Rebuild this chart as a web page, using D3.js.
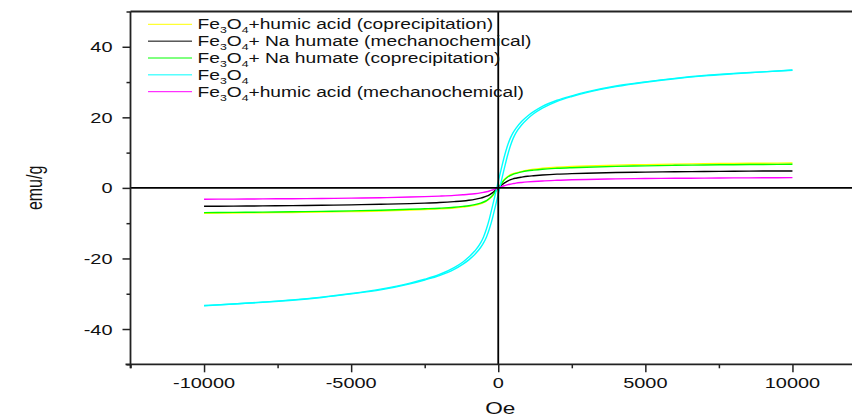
<!DOCTYPE html>
<html><head><meta charset="utf-8">
<script src="https://cdn.jsdelivr.net/npm/d3@7"></script>
<style>html,body{margin:0;padding:0;background:#fff;}svg{display:block;}</style>
</head><body>
<svg id="chart" width="852" height="418"></svg>
<script>
// ---- data ----
const fieldOe = [-10000,-9000,-8000,-7000,-6000,-5000,-4000,-3000,-2500,-2000,-1500,-1200,-1000,-800,-600,-500,-400,-300,-200,-100,0,
                 100,200,300,400,500,600,800,1000,1200,1500,2000,2500,3000,4000,5000,6000,7000,8000,9000,10000];
// Fe3O4: descending-field branch and ascending-field branch of the loop
const fe3o4Down = [-33.35,-32.9,-32.35,-31.75,-30.95,-29.95,-28.7,-27.0,-25.9,-24.55,-22.6,-21.0,-19.6,-17.9,-15.6,-13.9,-11.6,-8.7,-5.3,-1.8,1.8,
                   5.3,8.7,11.6,13.9,15.6,16.9,18.9,20.4,21.6,23.1,24.85,26.1,27.2,28.9,30.05,31.05,31.85,32.45,32.9,33.4];
const fe3o4Up   = [-33.4,-32.9,-32.45,-31.85,-31.05,-30.05,-28.9,-27.2,-26.1,-24.85,-23.1,-21.6,-20.4,-18.9,-16.9,-15.6,-13.9,-11.6,-8.7,-5.3,-1.8,
                   1.8,5.3,8.7,11.6,13.9,15.6,17.9,19.6,21.0,22.6,24.55,25.9,27.0,28.7,29.95,30.95,31.75,32.35,32.9,33.35];
const humicCoprec = [-7.2,-7.12,-7.05,-6.97,-6.85,-6.72,-6.55,-6.3,-6.15,-5.95,-5.7,-5.45,-5.25,-4.95,-4.5,-4.2,-3.75,-3.1,-2.3,-1.2,0,
                     1.2,2.3,3.1,3.7,4.0,4.25,4.7,5.05,5.3,5.55,5.85,6.05,6.2,6.45,6.6,6.75,6.85,6.93,7.0,7.07];
const naHumMech   = [-5.2,-5.16,-5.1,-5.02,-4.92,-4.8,-4.65,-4.45,-4.32,-4.15,-3.9,-3.7,-3.5,-3.25,-2.9,-2.65,-2.35,-1.95,-1.4,-0.7,0,
                     0.7,1.35,1.85,2.25,2.55,2.75,3.05,3.3,3.45,3.65,3.9,4.05,4.15,4.35,4.48,4.58,4.66,4.72,4.77,4.8];
const naHumCoprec = [-7.0,-6.95,-6.87,-6.77,-6.65,-6.5,-6.32,-6.07,-5.92,-5.75,-5.5,-5.25,-5.05,-4.75,-4.3,-4.0,-3.6,-3.0,-2.2,-1.1,0,
                     1.1,2.2,2.95,3.5,3.85,4.1,4.55,4.85,5.05,5.3,5.55,5.72,5.86,6.1,6.25,6.4,6.5,6.58,6.65,6.7];
const humicMech   = [-3.2,-3.17,-3.12,-3.06,-2.99,-2.9,-2.78,-2.6,-2.48,-2.32,-2.12,-1.95,-1.82,-1.65,-1.42,-1.27,-1.1,-0.88,-0.6,-0.3,0,
                     0.3,0.6,0.85,1.05,1.2,1.35,1.55,1.7,1.82,1.97,2.15,2.3,2.4,2.55,2.65,2.72,2.78,2.83,2.87,2.9];

const legendNames = [
  "+humic acid (coprecipitation)",
  "+ Na humate (mechanochemical)",
  "+ Na humate (coprecipitation)",
  "",
  "+humic acid (mechanochemical)"
];
const seriesColors = ["#ffff00","#000000","#00ff00","#00ffff","#ff00ff"];
const xMajorTicks = [-10000,-5000,0,5000,10000];
const xMinorTicks = [-12500,-7500,-2500,2500,7500,12500];
const yMajorTicks = [-40,-20,0,20,40];
const yMinorTicks = [-50,-30,-10,10,30,50];
const xTitle = "Oe", yTitle = "emu/g";

// ---- drawing ----
const svg = d3.select("#chart");
const SX = 1.33; // horizontal stretch of the reference's lettering
const FONT = "'Liberation Sans', Arial, sans-serif";
const x = d3.scaleLinear().domain([-12500,12500]).range([130.5,866]);
const y = d3.scaleLinear().domain([-50,50]).range([364.3,11.5]);

const series = [
  {branches:[humicCoprec]},
  {branches:[naHumMech]},
  {branches:[naHumCoprec]},
  {branches:[fe3o4Down, fe3o4Up]},
  {branches:[humicMech]}
];
const line = d3.line().x(d=>x(d[0])).y(d=>y(d[1])).curve(d3.curveMonotoneX);
const plot = svg.append("g");
series.forEach((s,i)=>{
  s.branches.forEach(b=>{
    plot.append("path").attr("d", line(fieldOe.map((h,j)=>[h,b[j]])))
      .attr("fill","none").attr("stroke",seriesColors[i]).attr("stroke-width",1.4);
  });
});

// zero lines
svg.append("line").attr("x1",x(-12500)).attr("x2",852).attr("y1",y(0)).attr("y2",y(0))
  .attr("stroke","#000").attr("stroke-width",1.8);
svg.append("line").attr("x1",x(0)).attr("x2",x(0)).attr("y1",y(50)).attr("y2",y(-50))
  .attr("stroke","#000").attr("stroke-width",1.8);

// frame top
svg.append("line").attr("x1",x(-12500)).attr("x2",852).attr("y1",y(50)).attr("y2",y(50))
  .attr("stroke","#222").attr("stroke-width",1.8);

// axes
const xAxisG = svg.append("g").attr("transform",`translate(0,${y(-50)})`)
  .call(d3.axisBottom(x).tickValues(xMajorTicks).tickSize(8).tickFormat(()=>"" ));
const xMinG = svg.append("g").attr("transform",`translate(0,${y(-50)})`)
  .call(d3.axisBottom(x).tickValues(xMinorTicks).tickSize(4).tickFormat(()=>""));
const yAxisG = svg.append("g").attr("transform",`translate(${x(-12500)},0)`)
  .call(d3.axisLeft(y).tickValues(yMajorTicks).tickSize(8).tickFormat(()=>""));
const yMinG = svg.append("g").attr("transform",`translate(${x(-12500)},0)`)
  .call(d3.axisLeft(y).tickValues(yMinorTicks).tickSize(4).tickFormat(()=>""));
[xAxisG,xMinG,yAxisG,yMinG].forEach(g=>{
  g.selectAll("path.domain").attr("stroke","#222").attr("stroke-width",1.8);
  g.selectAll(".tick line").attr("stroke","#222").attr("stroke-width",1.5);
});
xMinG.select("path.domain").remove();
yMinG.select("path.domain").remove();
xAxisG.select("path.domain").attr("d",`M${x(-12500)-5},0H900`);
yAxisG.select("path.domain").attr("d",`M0,${y(50)}V${y(-50)+4}`);

function stretchedText(px,py,str,size,anchor){
  return svg.append("text").attr("transform",`translate(${px},${py}) scale(${SX},1)`)
    .attr("font-family",FONT).attr("font-size",size).attr("text-anchor",anchor).attr("fill","#111").text(str);
}
xMajorTicks.forEach(v=>stretchedText(x(v),388,String(v),15,"middle"));
yMajorTicks.forEach(v=>stretchedText(x(-12500)-18,y(v)+5.5,String(v),15,"end"));
stretchedText(x(0)+2,414,xTitle,17,"middle");
svg.append("text").attr("transform",`translate(42,${y(0)}) rotate(-90) scale(1,${SX})`)
  .attr("font-family",FONT).attr("font-size",16).attr("text-anchor","middle").attr("fill","#111").text(yTitle);

// legend
const lg = svg.append("g");
legendNames.forEach((nm,i)=>{
  const ly = 24.3 + i*16.85;
  lg.append("line").attr("x1",148).attr("x2",192).attr("y1",ly).attr("y2",ly)
    .attr("stroke",seriesColors[i]).attr("stroke-width",1);
  const t = lg.append("text").attr("transform",`translate(197.5,${ly+5}) scale(1.37,1)`)
    .attr("font-family",FONT).attr("font-size",14).attr("fill","#111");
  t.append("tspan").text("Fe");
  t.append("tspan").attr("font-size",9).attr("dy",4).text("3");
  t.append("tspan").attr("dy",-4).text("O");
  t.append("tspan").attr("font-size",9).attr("dy",4).text("4");
  t.append("tspan").attr("dy",-4).text(nm);
});
</script>
</body></html>
